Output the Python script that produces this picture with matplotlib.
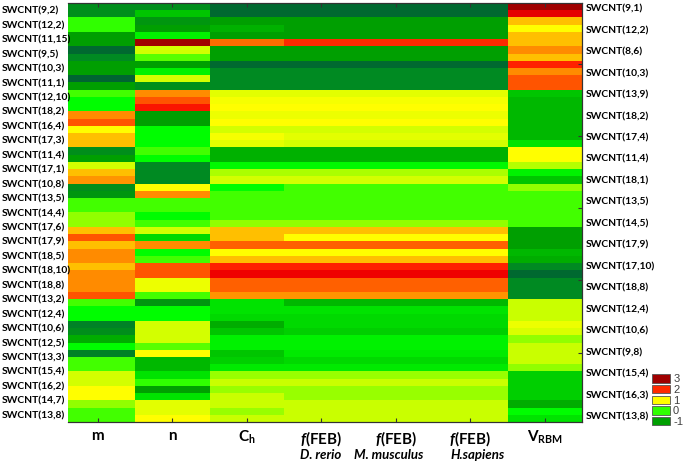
import numpy as np
import matplotlib
matplotlib.use("Agg")
import matplotlib.pyplot as plt
from matplotlib.colors import LinearSegmentedColormap, Normalize
from matplotlib.patches import Patch

# ---------------- data ----------------
left_labels = ["SWCNT(9,2)", "SWCNT(12,2)", "SWCNT(11,15)", "SWCNT(9,5)", "SWCNT(10,3)",
               "SWCNT(11,1)", "SWCNT(12,10)", "SWCNT(18,2)", "SWCNT(16,4)", "SWCNT(17,3)",
               "SWCNT(11,4)", "SWCNT(17,1)", "SWCNT(10,8)", "SWCNT(13,5)", "SWCNT(14,4)",
               "SWCNT(17,6)", "SWCNT(17,9)", "SWCNT(18,5)", "SWCNT(18,10)", "SWCNT(18,8)",
               "SWCNT(13,2)", "SWCNT(12,4)", "SWCNT(10,6)", "SWCNT(12,5)", "SWCNT(13,3)",
               "SWCNT(15,4)", "SWCNT(16,2)", "SWCNT(14,7)", "SWCNT(13,8)"]
right_labels = ["SWCNT(9,1)", "SWCNT(12,2)", "SWCNT(8,6)", "SWCNT(10,3)", "SWCNT(13,9)",
                "SWCNT(18,2)", "SWCNT(17,4)", "SWCNT(11,4)", "SWCNT(18,1)", "SWCNT(13,5)",
                "SWCNT(14,5)", "SWCNT(17,9)", "SWCNT(17,10)", "SWCNT(18,8)", "SWCNT(12,4)",
                "SWCNT(10,6)", "SWCNT(9,8)", "SWCNT(15,4)", "SWCNT(16,3)", "SWCNT(13,8)"]

x_labels = ["m", "n", "C$_\\mathrm{h}$",
            "$\\mathit{f}$(FEB)", "$\\mathit{f}$(FEB)", "$\\mathit{f}$(FEB)",
            "V$_\\mathrm{RBM}$"]
species = ["D. rerio", "M. musculus", "H.sapiens"]

m_vals = [-1.2, -1.2, 0.0, 0.0, -1.0, -1.0, -1.45, -1.25, -1.0, -1.0,
          -1.5, -1.0, 0.1, -0.2, -0.2, 1.6, 1.85, 1.0, 1.3, 1.3,
          -1.2, -1.0, 0.75, 1.3, 1.55, -1.2, -1.1, 0.1, 0.1, 0.4,
          0.4, 1.3, 1.85, 1.3, 1.6, 1.6, 1.3, 1.6, 1.6, 1.6,
          1.85, 0.1, -0.2, -0.2, -1.3, -1.2, -0.9, -0.2, -1.3, 0.1,
          0.1, 0.75, 0.75, 1.0, 1.0, 0.4, 0.1, 0.1]
n_vals = [-1.2, -0.7, -1.1, -1.0, -0.3, 3.0, 0.75, 0.2, -1.0, -0.3,
          0.75, -1.2, 1.6, 1.85, 2.1, -1.0, -1.0, -0.2, -0.2, -0.2,
          0.1, -0.2, -1.25, -1.25, -1.25, 1.0, 1.6, 0.1, 0.1, -0.2,
          0.1, 0.75, -0.5, 1.6, -0.2, 0.1, 1.85, 1.85, 0.9, 0.9,
          0.1, -1.1, -0.2, -0.2, 0.75, 0.75, 0.75, 0.2, 1.0, -0.8,
          -0.8, -0.4, 0.0, -1.0, -0.4, 0.85, 0.85, 1.0]
ch_vals = [-1.45, -1.45, -1.0, -0.85, -1.0, 1.75, -1.0, -1.0, -1.45, -1.25,
           -1.25, -1.25, 0.85, 0.95, 1.0, 0.9, 1.0, 0.75, 0.95, 0.85,
           -0.85, -0.85, -0.25, 0.55, 0.75, -0.2, 0.1, 0.1, 0.1, 0.1,
           0.4, 1.3, 1.3, 1.8, 1.0, 1.3, 2.05, 2.2, 1.8, 1.8,
           1.55, -0.4, -0.4, -0.5, -0.9, -0.7, -0.3, -0.3, -0.7, -0.6,
           -0.35, 0.45, 0.7, 0.45, 0.7, 0.7, 0.45, 0.7]
feb_drerio = [-1.45, -1.45, -1.0, -1.0, -1.0, 2.0, -1.0, -1.0, -1.45, -1.25,
              -1.25, -1.25, 0.85, 0.95, 1.0, 0.9, 1.0, 0.75, 0.85, 0.75,
              -0.85, -0.85, -0.25, 0.55, 0.75, 0.1, 0.1, 0.1, 0.1, 0.1,
              0.4, 1.3, 1.0, 1.8, 1.0, 1.3, 2.05, 2.2, 1.8, 1.8,
              1.55, -0.8, -0.4, -0.5, -0.5, -0.6, -0.3, -0.3, -0.35, -0.5,
              -0.35, 0.45, 0.7, 0.45, 0.45, 0.7, 0.7, 0.7]
feb_mmusculus = list(feb_drerio)
feb_hsapiens = list(feb_drerio)
vrbm_vals = [3.0, 2.3, 1.3, 1.0, 1.3, 1.3, 1.6, 1.3, 2.05, 1.6,
             1.85, 1.85, -0.7, -0.8, -0.8, -0.8, -0.8, -0.8, -0.8, -0.4,
             1.0, 1.0, 0.6, -0.3, -0.7, 0.4, 0.1, 0.1, 0.1, 0.1,
             0.1, -1.0, -1.0, -1.0, -0.8, -0.9, -1.25, -1.45, -1.25, -1.25,
             -1.25, 0.7, 0.7, 0.7, 0.9, 0.8, 0.4, 0.7, 0.7, 0.7,
             0.4, -0.6, -0.6, -0.6, -0.6, -0.9, -0.2, -0.4]

legend_values = [3, 2, 1, 0, -1]

# colour scale
scale_points = [-1.5, -1.25, -1.0, -0.75, -0.4, -0.2, 0.0, 0.1, 0.4, 0.7, 1.0, 1.3, 1.6, 1.85, 2.05, 2.2, 3.0]
scale_colors = ["#006432", "#008a22", "#00a000", "#00c000", "#00e400", "#00ff00", "#30ff00", "#40ff00",
                "#90ff00", "#c8ff00", "#ffff00", "#ffc000", "#ff8c00", "#ff5500", "#ff2000", "#f00000", "#a00000"]

# ---------------- styling ----------------
plt.rcParams['font.family'] = ['Lato', 'DejaVu Sans']
plt.rcParams['mathtext.fontset'] = 'custom'
plt.rcParams['mathtext.rm'] = 'Lato:bold'
plt.rcParams['mathtext.it'] = 'Lato:italic:bold'
plt.rcParams['mathtext.bf'] = 'Lato:bold'

vmin, vmax = scale_points[0], scale_points[-1]
cmap = LinearSegmentedColormap.from_list(
    "feb", [((p - vmin) / (vmax - vmin), c) for p, c in zip(scale_points, scale_colors)])
norm = Normalize(vmin=vmin, vmax=vmax)

Z = np.array([m_vals, n_vals, ch_vals, feb_drerio, feb_mmusculus, feb_hsapiens, vrbm_vals]).T
n_rows, n_cols = Z.shape

W, H = 685, 465
fig = plt.figure(figsize=(W / 100, H / 100), dpi=100)
ax = fig.add_axes([68 / W, (H - 422) / H, 514 / W, 419 / H])
ax.pcolormesh(np.arange(n_cols + 1), np.arange(n_rows + 1), Z, cmap=cmap, norm=norm, shading='flat')
ax.set_xlim(0.1, n_cols)
ax.set_ylim(n_rows, 0)

# x ticks
ax.set_xticks(np.arange(n_cols) + 0.5)
ax.set_xticklabels(x_labels, fontsize=11, fontweight='bold')
ax.tick_params(axis='x', direction='in', length=3, width=0.8, top=True, bottom=True,
               pad=5, colors='#333333', labelcolor='black')

# species line under the f(FEB) labels
species_shift = [-0.5, -5.0, 5.0]
for i, (sp, dx) in enumerate(zip(species, species_shift)):
    ax.annotate(sp, xy=(3 + i + 0.5, 0), xycoords=('data', 'axes fraction'),
                xytext=(dx, -24), textcoords='offset points', ha='center', va='center',
                fontsize=9.5, fontweight='bold', fontstyle='italic')

# left labels (left aligned at the figure edge)
ax.set_yticks(np.arange(len(left_labels)) * 2 + 1)
ax.set_yticklabels(left_labels, fontsize=7.4, fontweight='bold', ha='left')
ax.tick_params(axis='y', length=0, pad=66 * 0.72)

# right labels
ax2 = ax.twinx()
ax2.set_ylim(n_rows, 0)
ax2.set_yticks(np.linspace(0.7, n_rows - 0.8, len(right_labels)))
ax2.set_yticklabels(right_labels, fontsize=7.4, fontweight='bold')
ax2.tick_params(axis='y', which='major', length=0, pad=2.5)
ax2.set_yticks(np.arange(8.4, n_rows, 10), minor=True)
ax2.tick_params(axis='y', which='minor', direction='in', length=3, width=0.8, color='#333333')

for a in (ax, ax2):
    for side in ('top', 'bottom', 'right'):
        a.spines[side].set_color('#333333')
        a.spines[side].set_linewidth(0.8)
    a.spines['left'].set_visible(False)

# legend
handles = [Patch(facecolor=cmap(norm(v)), edgecolor='#555555', linewidth=0.6) for v in legend_values]
fig.legend(handles, [str(v) for v in legend_values], loc='lower left',
           bbox_to_anchor=(652 / W, (H - 427) / H), frameon=False,
           handlelength=1.6, handleheight=0.8, handletextpad=0.3, labelspacing=0.05,
           borderpad=0, borderaxespad=0, labelcolor='#404040',
           prop={'family': 'Liberation Sans', 'size': 8})

fig.savefig("out.png", dpi=100)
